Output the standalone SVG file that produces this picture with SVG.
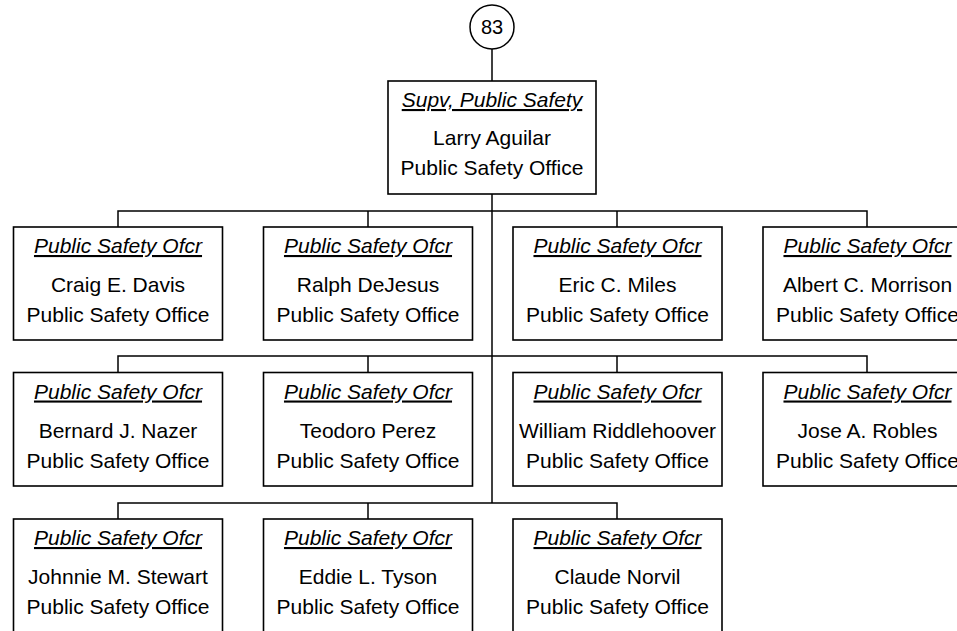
<svg xmlns="http://www.w3.org/2000/svg" width="957" height="631" viewBox="0 0 957 631">
<style>
.box{fill:#fff;stroke:#000;stroke-width:1.6}
.ln{fill:none;stroke:#000;stroke-width:1.5}
text{font-family:"Liberation Sans",Arial,sans-serif;font-size:21px;fill:#000;text-anchor:middle}
.t{font-style:italic;text-decoration:underline}
</style>
<rect width="957" height="631" fill="#fff"/>
<g id="connectors">
<line class="ln" x1="492" y1="49" x2="492" y2="81"/>
<line class="ln" x1="492" y1="194" x2="492" y2="503"/>
<polyline class="ln" points="118,227 118,211 867,211 867,227"/>
<line class="ln" x1="368" y1="211" x2="368" y2="227"/>
<line class="ln" x1="617" y1="211" x2="617" y2="227"/>
<polyline class="ln" points="118,372.5 118,356 867,356 867,372.5"/>
<line class="ln" x1="368" y1="356" x2="368" y2="372.5"/>
<line class="ln" x1="617" y1="356" x2="617" y2="372.5"/>
<polyline class="ln" points="118,519 118,503 617,503 617,519"/>
<line class="ln" x1="368" y1="503" x2="368" y2="519"/>
</g>
<g id="n83">
<circle cx="492" cy="27" r="22" fill="#fff" stroke="#000" stroke-width="1.5"/>
<text x="492" y="34" style="font-size:20px">83</text>
</g>
<g id="supv">
<rect class="box" x="388" y="81" width="208" height="113"/>
<text class="t" x="492" y="107">Supv, Public Safety</text>
<text x="492" y="145">Larry Aguilar</text>
<text x="492" y="175">Public Safety Office</text>
</g>
<g id="davis">
<rect class="box" x="13.5" y="227" width="209" height="113"/>
<text class="t" x="118" y="253">Public Safety Ofcr</text>
<text x="118" y="292">Craig E. Davis</text>
<text x="118" y="322">Public Safety Office</text>
</g>
<g id="dejesus">
<rect class="box" x="263.5" y="227" width="209" height="113"/>
<text class="t" x="368" y="253">Public Safety Ofcr</text>
<text x="368" y="292">Ralph DeJesus</text>
<text x="368" y="322">Public Safety Office</text>
</g>
<g id="miles">
<rect class="box" x="513" y="227" width="209" height="113"/>
<text class="t" x="617.5" y="253">Public Safety Ofcr</text>
<text x="617.5" y="292">Eric C. Miles</text>
<text x="617.5" y="322">Public Safety Office</text>
</g>
<g id="morrison">
<rect class="box" x="763" y="227" width="209" height="113"/>
<text class="t" x="867.5" y="253">Public Safety Ofcr</text>
<text x="867.5" y="292">Albert C. Morrison</text>
<text x="867.5" y="322">Public Safety Office</text>
</g>
<g id="nazer">
<rect class="box" x="13.5" y="372.5" width="209" height="113.5"/>
<text class="t" x="118" y="398.5">Public Safety Ofcr</text>
<text x="118" y="437.5">Bernard J. Nazer</text>
<text x="118" y="467.5">Public Safety Office</text>
</g>
<g id="perez">
<rect class="box" x="263.5" y="372.5" width="209" height="113.5"/>
<text class="t" x="368" y="398.5">Public Safety Ofcr</text>
<text x="368" y="437.5">Teodoro Perez</text>
<text x="368" y="467.5">Public Safety Office</text>
</g>
<g id="riddlehoover">
<rect class="box" x="513" y="372.5" width="209" height="113.5"/>
<text class="t" x="617.5" y="398.5">Public Safety Ofcr</text>
<text x="617.5" y="437.5">William Riddlehoover</text>
<text x="617.5" y="467.5">Public Safety Office</text>
</g>
<g id="robles">
<rect class="box" x="763" y="372.5" width="209" height="113.5"/>
<text class="t" x="867.5" y="398.5">Public Safety Ofcr</text>
<text x="867.5" y="437.5">Jose A. Robles</text>
<text x="867.5" y="467.5">Public Safety Office</text>
</g>
<g id="stewart">
<rect class="box" x="13.5" y="519" width="209" height="120"/>
<text class="t" x="118" y="545">Public Safety Ofcr</text>
<text x="118" y="584">Johnnie M. Stewart</text>
<text x="118" y="614">Public Safety Office</text>
</g>
<g id="tyson">
<rect class="box" x="263.5" y="519" width="209" height="120"/>
<text class="t" x="368" y="545">Public Safety Ofcr</text>
<text x="368" y="584">Eddie L. Tyson</text>
<text x="368" y="614">Public Safety Office</text>
</g>
<g id="norvil">
<rect class="box" x="513" y="519" width="209" height="120"/>
<text class="t" x="617.5" y="545">Public Safety Ofcr</text>
<text x="617.5" y="584">Claude Norvil</text>
<text x="617.5" y="614">Public Safety Office</text>
</g>
</svg>
